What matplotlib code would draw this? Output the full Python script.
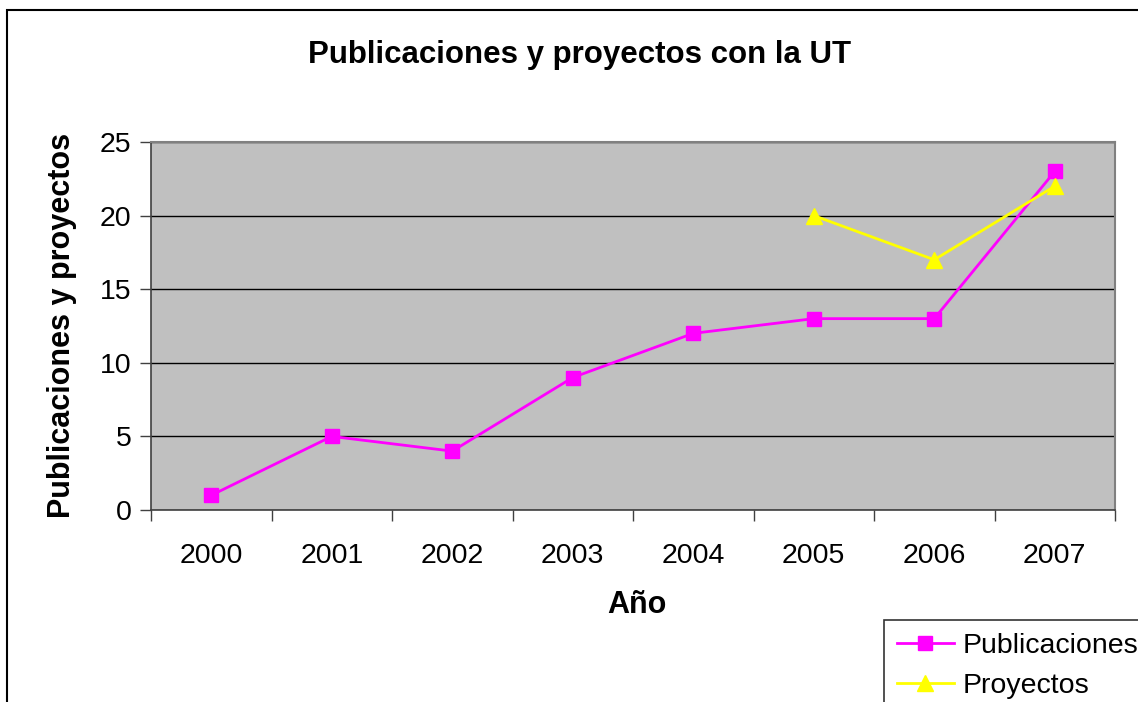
import numpy as np
import matplotlib.pyplot as plt
from matplotlib.patches import Rectangle

plt.rcParams['font.family'] = ['Liberation Sans', 'DejaVu Sans']

years = ['2000', '2001', '2002', '2003', '2004', '2005', '2006', '2007']
publicaciones = [1, 5, 4, 9, 12, 13, 13, 23]
proyectos = [np.nan, np.nan, np.nan, np.nan, np.nan, 20, 17, 22]

fig = plt.figure(figsize=(11.38, 7.02), dpi=100)
ax = fig.add_axes([151/1138, 1 - 510/702, 964/1138, 368/702])
ax.set_facecolor('#C0C0C0')

x = np.arange(len(years))
ax.plot(x, publicaciones, color='#FF00FF', lw=2, marker='s', ms=10,
        mec='#FF00FF', label='Publicaciones', zorder=3)
ax.plot(x, proyectos, color='#FFFF00', lw=2, marker='^', ms=11,
        mec='#FFFF00', label='Proyectos', zorder=3)

ax.set_xlim(-0.5, len(years) - 0.5)
ax.set_ylim(0, 25)
ax.set_yticks([0, 5, 10, 15, 20, 25])
ax.yaxis.grid(True, color='black', lw=1)
ax.set_axisbelow(True)

# category boundaries get tick marks, labels sit in the middle
ax.set_xticks(np.arange(-0.5, len(years), 1.0))
ax.set_xticklabels([])
ax.set_xticks(x, minor=True)
ax.set_xticklabels(years, minor=True)
ax.tick_params(axis='x', which='minor', length=0, pad=24, labelsize=20.5)
ax.tick_params(axis='x', which='major', length=8, width=1, color='#404040', direction='out')
ax.tick_params(axis='y', length=8, width=1, color='#404040', direction='out', labelsize=20.5, pad=6)

for s in ['top', 'right']:
    ax.spines[s].set_color('#808080')
    ax.spines[s].set_linewidth(1.5)
for s in ['left', 'bottom']:
    ax.spines[s].set_color('#404040')
    ax.spines[s].set_linewidth(1.2)

fig.text(580/1138, 1 - 55/702, 'Publicaciones y proyectos con la UT',
         ha='center', va='center', fontsize=22.5, fontweight='bold')
fig.text(637/1138, 1 - 605/702, 'Año', ha='center', va='center',
         fontsize=22, fontweight='bold')
fig.text(62/1138, 1 - 325/702, 'Publicaciones y proyectos', ha='center', va='center',
         rotation=90, fontsize=22, fontweight='bold')

leg = fig.legend(loc='upper left', bbox_to_anchor=(884/1138, 1 - 620/702),
                 fontsize=20.5, frameon=True, fancybox=False, edgecolor='black',
                 borderpad=0.45, handlelength=2.0, labelspacing=0.5, handletextpad=0.3,
                 borderaxespad=0)
leg.get_frame().set_linewidth(1.2)

fig.patches.append(Rectangle((7/1138, -0.1), 1.2, 1 - 10/702 + 0.1,
                             transform=fig.transFigure, fill=False,
                             edgecolor='black', lw=1.5))

fig.savefig('out.png', dpi=100)
